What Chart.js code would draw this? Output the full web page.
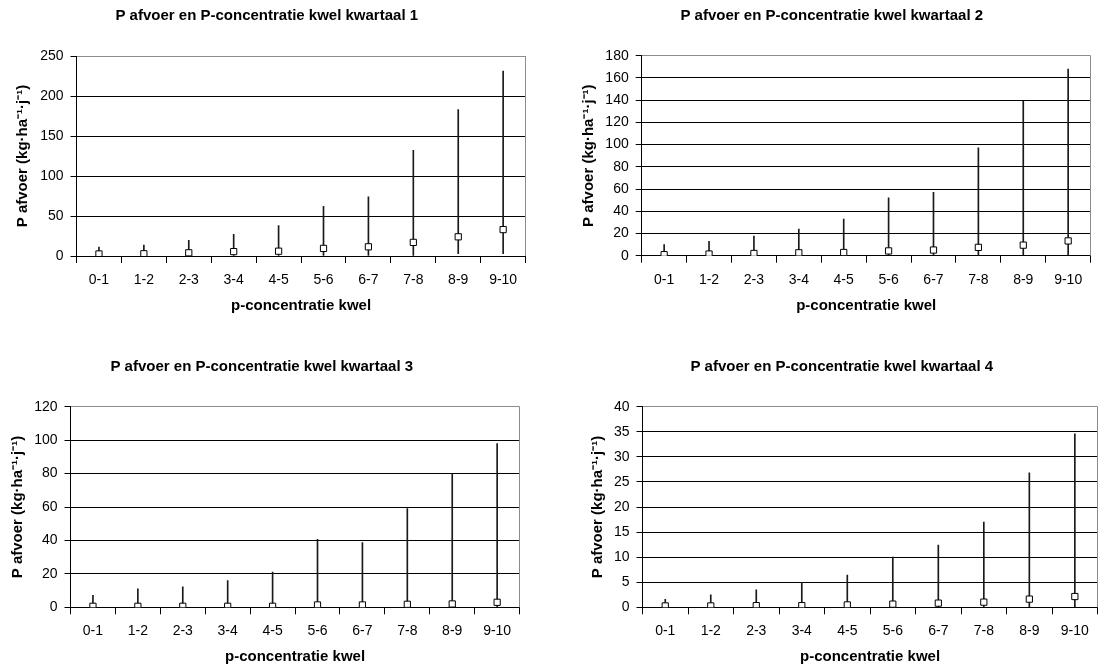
<!DOCTYPE html>
<html><head><meta charset="utf-8">
<script src="https://cdn.jsdelivr.net/npm/chart.js@4.4.1/dist/chart.umd.min.js"></script>
<style>
html,body{margin:0;padding:0;background:#fff;width:1105px;height:671px;overflow:hidden;position:relative}
canvas{position:absolute}
</style></head><body>
<canvas id="c1" width="527" height="330" style="left:4px;top:0px"></canvas>
<canvas id="c2" width="527" height="330" style="left:569px;top:0px"></canvas>
<canvas id="c3" width="526" height="341" style="left:-1px;top:330px"></canvas>
<canvas id="c4" width="522" height="341" style="left:581px;top:330px"></canvas>
<script>
const categories = ['0-1','1-2','2-3','3-4','4-5','5-6','6-7','7-8','8-9','9-10'];

const titles = [
  'P afvoer en P-concentratie kwel kwartaal 1',
  'P afvoer en P-concentratie kwel kwartaal 2',
  'P afvoer en P-concentratie kwel kwartaal 3',
  'P afvoer en P-concentratie kwel kwartaal 4'
];
const xTitle = 'p-concentratie kwel';
const yTitle = 'P afvoer (kg·ha⁻¹·j⁻¹)';

// kwartaal 1
const q1Min = [0, 0, 0, 0, 0, 0, 0, 0, 3, 3];
const q1Max = [11, 13.5, 19.5, 27, 38, 62, 74, 132, 183, 231];
const q1Med = [2.5, 2.8, 4, 5.5, 6, 9.5, 11.5, 17, 24, 33];
const q1Axis = [0, 250, 50];

// kwartaal 2
const q2Min = [0, 0, 0, 0, 0, 0, 0, 0, 0, 0];
const q2Max = [10, 13, 17.6, 24, 33, 52, 57, 97, 139, 168];
const q2Med = [0.9, 1.5, 2, 2.6, 2.9, 4.3, 5.1, 7.5, 9.5, 13.3];
const q2Axis = [0, 180, 20];

// kwartaal 3
const q3Min = [0, 0, 0, 0, 0, 0, 0, 0, 0, 0];
const q3Max = [7.2, 11, 12.2, 16, 21, 40.7, 38.7, 59, 79.7, 98];
const q3Med = [0.6, 0.6, 0.6, 0.6, 0.6, 1.4, 1.4, 1.8, 2, 3];
const q3Axis = [0, 120, 20];

// kwartaal 4
const q4Min = [0, 0, 0, 0, 0, 0, 0, 0, 0, 0];
const q4Max = [1.6, 2.5, 3.5, 5, 6.4, 10, 12.4, 17, 26.8, 34.6];
const q4Med = [0.27, 0.27, 0.33, 0.33, 0.47, 0.63, 0.83, 1.03, 1.63, 2.15];
const q4Axis = [0, 40, 5];

Chart.defaults.font.family = '"Liberation Sans", Arial, sans-serif';
Chart.defaults.color = '#000';

const framePlugin = {
  id: 'frame',
  beforeDatasetsDraw(chart) {
    const {ctx, chartArea: {top, right, bottom}} = chart;
    ctx.save();
    ctx.strokeStyle = '#8c8c8c';
    ctx.lineWidth = 1;
    ctx.beginPath();
    const x = Math.round(right) - 0.5;
    ctx.moveTo(x, top);
    ctx.lineTo(x, bottom);
    ctx.stroke();
    ctx.restore();
  }
};

function makeChart(id, title, mins, maxs, meds, axis, lay) {
  const ranges = mins.map((m, i) => [m, maxs[i]]);
  const [yMin, yMax, step] = axis;
  new Chart(document.getElementById(id), {
    type: 'bar',
    data: {
      labels: categories,
      datasets: [
        {
          type: 'line',
          data: meds,
          showLine: false,
          pointStyle: 'rect',
          pointRadius: 4.4,
          pointBackgroundColor: '#fff',
          pointBorderColor: '#000',
          pointBorderWidth: 1,
          order: 0
        },
        {
          type: 'bar',
          data: ranges,
          backgroundColor: '#1a1a1a',
          borderWidth: 0,
          barThickness: 1,
          order: 1
        }
      ]
    },
    options: {
      responsive: false,
      animation: false,
      events: [],
      layout: {padding: {left: 0, top: 0, right: lay.padR, bottom: 0}},
      plugins: {
        legend: {display: false},
        tooltip: {enabled: false},
        title: {
          display: true,
          text: title,
          color: '#000',
          font: {size: 15, weight: 'bold'},
          padding: {top: lay.tTop, bottom: lay.tBot}
        }
      },
      scales: {
        x: {
          offset: true,
          afterFit: s => { s.height = lay.xH; },
          grid: {offset: true, drawOnChartArea: false, drawTicks: true, tickLength: 7, color: '#000', lineWidth: 1},
          border: {display: true, color: '#000', width: 1},
          ticks: {font: {size: 14}, padding: 8.8, maxRotation: 0, autoSkip: false},
          title: {display: true, text: xTitle, font: {size: 15, weight: 'bold'}, padding: {top: 0, bottom: lay.xPadB}}
        },
        y: {
          min: yMin, max: yMax,
          afterFit: s => { s.width = lay.yW; },
          grid: {
            color: c => (c.tick && c.tick.value === yMax) ? '#8c8c8c' : '#000',
            tickColor: '#000',
            lineWidth: 1, drawTicks: true, tickLength: 6
          },
          border: {display: true, color: '#000', width: 1},
          ticks: {stepSize: step, font: {size: 14}, padding: 7},
          title: {display: true, text: yTitle, font: {size: 15, weight: 'bold'}, padding: {top: lay.yPadT, bottom: 0}}
        }
      }
    },
    plugins: [framePlugin]
  });
}

makeChart('c1', titles[0], q1Min, q1Max, q1Med, q1Axis, {padR: 1.5, tTop: 7, tBot: 31, xH: 74, xPadB: 15, yW: 72.5, yPadT: 10});
makeChart('c2', titles[1], q2Min, q2Max, q2Med, q2Axis, {padR: 1.5, tTop: 7, tBot: 30.7, xH: 74.3, xPadB: 15, yW: 72.7, yPadT: 11});
makeChart('c3', titles[2], q3Min, q3Max, q3Med, q3Axis, {padR: 0.5, tTop: 27.7, tBot: 31, xH: 63.7, xPadB: 4.7, yW: 71.5, yPadT: 9.6});
makeChart('c4', titles[3], q4Min, q4Max, q4Med, q4Axis, {padR: 0.5, tTop: 27.7, tBot: 31, xH: 63.7, xPadB: 4.7, yW: 61.5, yPadT: 7.9});
</script>
</body></html>
